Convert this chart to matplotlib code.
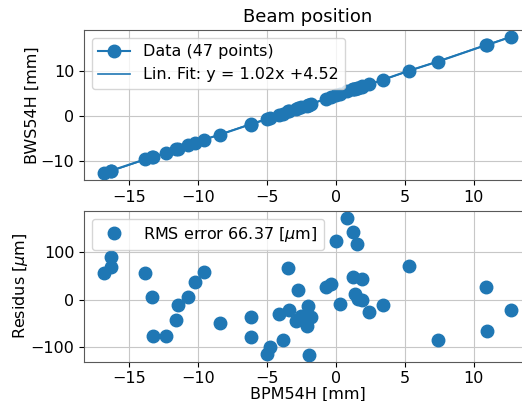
import numpy as np
import matplotlib
matplotlib.use("Agg")
import matplotlib.pyplot as plt

# BPM54H positions [mm]
bpm = [-16.8, -16.3, -16.3, -13.84, -13.36, -13.3, -12.3, -11.6, -11.45, -10.7,
       -10.2, -9.6, -8.4, -6.2, -6.2, -5.0, -4.8, -4.13, -3.84, -3.48,
       -3.4, -2.92, -2.75, -2.56, -2.13, -2.0, -1.96, -1.84, -0.75, -0.39,
       -0.02, 0.29, 0.82, 1.26, 1.26, 1.35, 1.55, 1.6, 1.86, 1.91,
       2.42, 3.38, 5.29, 7.39, 10.9, 10.97, 12.66]
# BWS54H positions [mm]
bws = [-12.559, -12.016, -12.038, -9.540, -9.101, -9.123, -8.103, -7.354, -7.170, -6.389,
       -5.846, -5.213, -4.096, -1.840, -1.882, -0.694, -0.476, 0.277, 0.519, 1.037,
       1.030, 1.498, 1.735, 1.875, 2.291, 2.466, 2.405, 2.607, 3.782, 4.156,
       4.624, 4.808, 5.529, 5.948, 5.853, 5.909, 6.218, 6.153, 6.416, 6.511,
       6.963, 7.957, 9.987, 11.974, 15.664, 15.644, 17.412]
# residuals [um]
resid = [57, 90, 68, 57, 6, -77, -77, -42, -11, 5,
         38, 59, -48, -36, -78, -114, -100, -30, -84, 67,
         -22, -44, 20, -34, -56, -14, -116, -36, 27, 34,
         124, -8, 173, 143, 48, 12, 117, 1, -1, 43,
         -25, -11, 71, -84, 26, -65, -21]
slope = 1.02
intercept = 4.52
rms = 66.37

plt.rcParams['font.size'] = 11.5
plt.rcParams['axes.edgecolor'] = '0.35'

fig = plt.figure(figsize=(5.22, 4.01), dpi=100)
ax1 = fig.add_axes([0.161, 0.551, 0.856, 0.374])
ax2 = fig.add_axes([0.161, 0.098, 0.856, 0.3766])

x = np.array(bpm)
ax1.plot(bpm, bws, 'o-', color='C0', ms=9, lw=1.5, label='Data (%d points)' % len(bpm))
ax1.plot(x, slope * x + intercept, '-', color='C0', lw=1.2,
         label='Lin. Fit: y = %.2fx +%.2f' % (slope, intercept))
ax1.set_title('Beam position', fontsize=13)
ax1.set_ylabel('BWS54H [mm]', labelpad=0.5)
ax1.grid(True, color='0.78')
ax1.legend(loc='upper left')

ax2.plot(bpm, resid, 'o', color='C0', ms=9, label=r'RMS error %.2f [$\mu$m]' % rms)
ax2.set_ylabel(r'Residus [$\mu$m]', labelpad=0.5)
ax2.set_xlabel('BPM54H [mm]', labelpad=0.5)
ax2.grid(True, color='0.78')
ax2.legend(loc='upper left')

for ax in (ax1, ax2):
    ax.set_axisbelow(True)

fig.savefig('out.png', dpi=100)
